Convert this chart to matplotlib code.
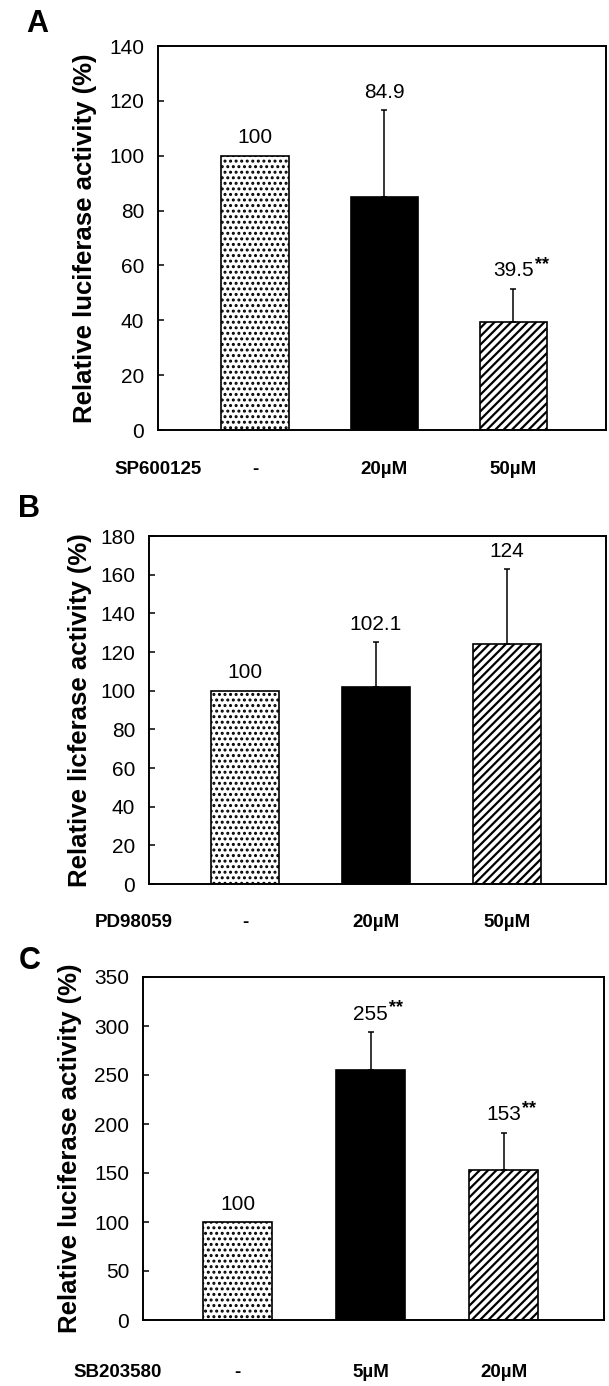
import matplotlib
matplotlib.use("Agg")
import matplotlib.pyplot as plt
import matplotlib.transforms as mtransforms

plt.rcParams['font.family'] = ['Liberation Sans', 'DejaVu Sans']

# panel A: SP600125
drug_a = 'SP600125'
doses_a = ['-', '20µM', '50µM']
vals_a = [100, 84.9, 39.5]
err_a = [0, 31.6, 12.0]
stars_a = ['', '', '**']

# panel B: PD98059
drug_b = 'PD98059'
doses_b = ['-', '20µM', '50µM']
vals_b = [100, 102.1, 124]
err_b = [0, 23.0, 39.0]
stars_b = ['', '', '']

# panel C: SB203580
drug_c = 'SB203580'
doses_c = ['-', '5µM', '20µM']
vals_c = [100, 255, 153]
err_c = [0, 39.0, 38.0]
stars_c = ['', '**', '**']

faces = ['white', 'black', 'white']
hatches = ['...', None, '////']
hatch_lw = [1.4, 1.0, 1.6]

W, H = 609, 1386
fig = plt.figure(figsize=(W / 100, H / 100), dpi=100)


def px_axes(left, right, top, bottom):
    return fig.add_axes([left / W, 1 - bottom / H, (right - left) / W, (bottom - top) / H])


def panel(ax, drug, doses, vals, err, stars, ymax, ystep, xlim,
          ylabel, label_x, row_y, drug_x):
    x = list(range(len(vals)))
    for i in x:
        with plt.rc_context({'hatch.linewidth': hatch_lw[i]}):
            ax.bar(x[i], vals[i], width=0.52, color=faces[i], edgecolor='black',
                   linewidth=1.2, hatch=hatches[i], zorder=2)
        if err[i] > 0:
            ax.errorbar(x[i], vals[i], yerr=[[0], [err[i]]], fmt='none',
                        ecolor='black', elinewidth=1.1, capsize=2.5, capthick=1.1, zorder=3)
        txt = ax.annotate(f"{vals[i]:g}", xy=(x[i], vals[i] + err[i]),
                          xytext=(0, 6), textcoords='offset points',
                          ha='center', va='bottom', fontsize=15)
        if stars[i]:
            ax.annotate(stars[i], xy=(1, 1), xycoords=txt, xytext=(1, -2),
                        textcoords='offset points', ha='left', va='center',
                        fontsize=13, fontweight='bold')

    ax.set_xlim(*xlim)
    ax.set_ylim(0, ymax)
    ax.set_yticks(range(0, ymax + 1, ystep))
    ax.set_xticks([])
    ax.tick_params(axis='y', direction='in', length=4, width=1.1, pad=10, labelsize=15)
    for s in ax.spines.values():
        s.set_linewidth(1.4)

    ax.set_ylabel(ylabel, fontsize=18.5, fontweight='bold')
    ax.yaxis.set_label_coords(label_x, 0.5)

    trans = mtransforms.blended_transform_factory(ax.transData, ax.transAxes)
    for i, d in enumerate(doses):
        ax.text(x[i], row_y, d, transform=trans, ha='center', va='center',
                fontsize=13.5, fontweight='bold')
    ax.text(drug_x, row_y, drug, transform=ax.transAxes, ha='center', va='center',
            fontsize=13.5, fontweight='bold')


ax_a = px_axes(158, 606, 46, 430)
panel(ax_a, drug_a, doses_a, vals_a, err_a, stars_a, 140, 20, (-0.752, 2.72),
      'Relative luciferase activity (%)', -0.136, -0.104, 0.0)
ax_b = px_axes(149, 606, 536, 884)
panel(ax_b, drug_b, doses_b, vals_b, err_b, stars_b, 180, 20, (-0.733, 2.756),
      'Relative licferase activity (%)', -0.125, -0.112, -0.033)
ax_c = px_axes(143, 604, 977, 1320)
panel(ax_c, drug_c, doses_c, vals_c, err_c, stars_c, 350, 50, (-0.711, 2.755),
      'Relative luciferase activity (%)', -0.132, -0.152, -0.054)

fig.text(37 / W, 1 - 24 / H, 'A', fontsize=22, fontweight='bold', ha='center', va='center')
fig.text(29 / W, 1 - 509 / H, 'B', fontsize=22, fontweight='bold', ha='center', va='center')
fig.text(30 / W, 1 - 961 / H, 'C', fontsize=22, fontweight='bold', ha='center', va='center')

fig.savefig('out.png', dpi=100)
